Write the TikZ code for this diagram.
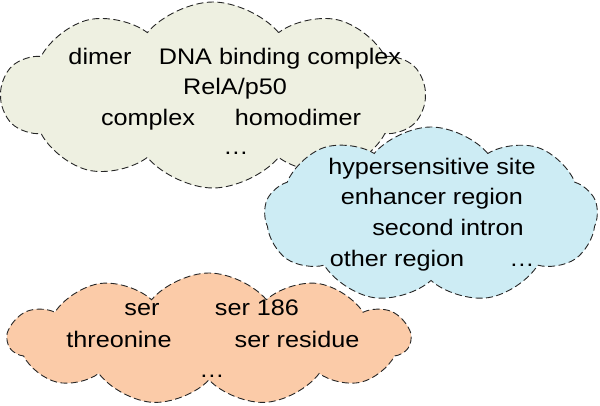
\documentclass[tikz,border=0pt]{standalone}
\usepackage{fontspec}
\setmainfont{Liberation Sans}[FakeStretch=1.12]
\usetikzlibrary{shapes.symbols}
\definecolor{greencloud}{HTML}{EEF0E1}
\definecolor{bluecloud}{HTML}{CDECF4}
\definecolor{orangecloud}{HTML}{FBCBA8}
\tikzset{
  wolke/.style={cloud, draw=black!85, line width=0.9pt, dash pattern=on 7pt off 3.5pt,
    cloud puffs=10, cloud puff arc=100, aspect=2.2, inner sep=0pt},
  wort/.style={anchor=base, inner sep=0pt, font=\fontsize{22.5}{26}\selectfont}
}
\begin{document}
\begin{tikzpicture}[x=1pt,y=-1pt]
        \useasboundingbox (0,0) rectangle (600,406);
        \node[wolke, fill=greencloud, minimum width=423pt, minimum height=186pt] (gruen) at (213,95) {};
        \node[wolke, fill=bluecloud, minimum width=333pt, minimum height=176pt, cloud puffs=9, aspect=1.9] (blau) at (431,215) {};
        \node[wolke, fill=orangecloud, minimum width=402pt, minimum height=132pt, cloud puffs=11, aspect=3] (orange) at (209,339) {};
        \node[wort] (dimer) at (100,65) {dimer};
        \node[wort] (dna) at (280,65) {DNA binding complex};
        \node[wort] (rela) at (235,95) {RelA/p50};
        \node[wort] (complex) at (148,126) {complex};
        \node[wort] (homo) at (298,126) {homodimer};
        \node[wort] (gdots) at (236,155) {\dots};
        \node[wort] (hyper) at (432,175) {hypersensitive site};
        \node[wort] (enh) at (432,205) {enhancer region};
        \node[wort] (intron) at (448,236) {second intron};
        \node[wort] (other) at (397,267) {other region};
        \node[wort] (bdots) at (522,267) {\dots};
        \node[wort] (ser) at (142,315) {ser};
        \node[wort] (ser186) at (257,315) {ser 186};
        \node[wort] (thr) at (119,347) {threonine};
        \node[wort] (resid) at (297,347) {ser residue};
        \node[wort] (odots) at (212,377) {\dots};
    \end{tikzpicture}
\end{document}
